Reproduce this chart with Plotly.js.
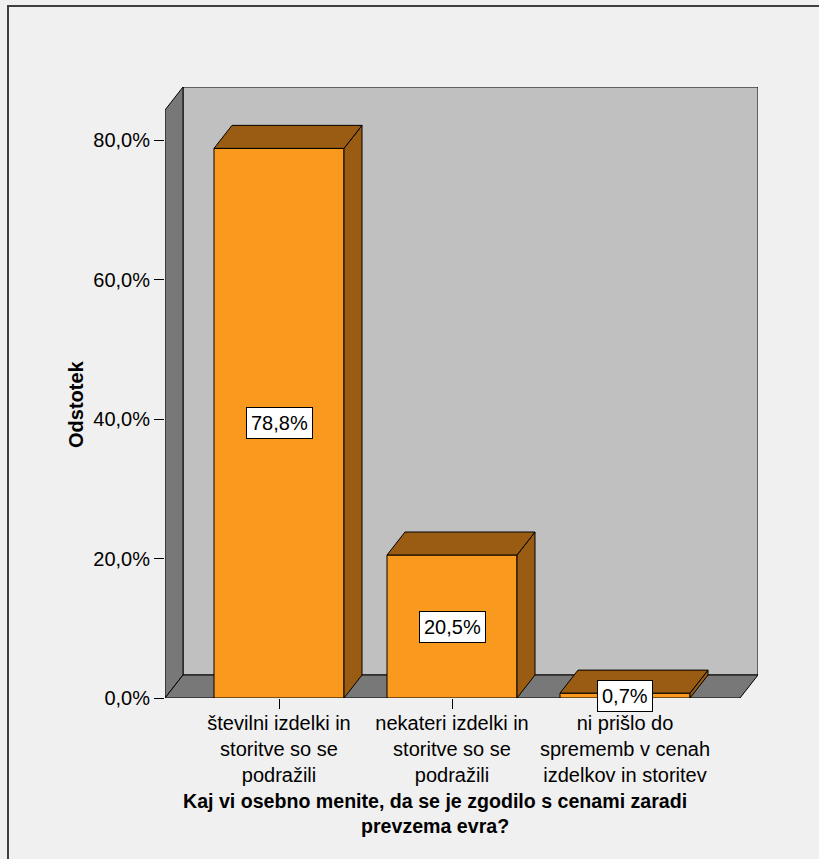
<!DOCTYPE html>
<html>
<head>
<meta charset="utf-8">
<script src="https://cdn.plot.ly/plotly-3.0.1.min.js"></script>
<style>
  html, body { margin: 0; padding: 0; background: #f0f0f0; }
  #chart { width: 819px; height: 859px; }
</style>
</head>
<body>
<div id="chart"></div>
<script>
// ---- data ----
var categories = [
  "številni izdelki in<br>storitve so se<br>podražili",
  "nekateri izdelki in<br>storitve so se<br>podražili",
  "ni prišlo do<br>sprememb v cenah<br>izdelkov in storitev"
];
var percentages = [78.8, 20.5, 0.7];
var yTickValues = [0, 20, 40, 60, 80];
var yTickLabels = ["0,0%", "20,0%", "40,0%", "60,0%", "80,0%"];
var xTitle = "Kaj vi osebno menite, da se je zgodilo s cenami zaradi<br>prevzema evra?";
var yTitle = "Odstotek";

// ---- layout geometry ----
var L = 165, R = 61, T = 87, B = 161, W = 819, H = 859;
var plotW = W - L - R, plotH = H - T - B;
var unitX = 173;          // px per category
var center0 = 279;        // px of first category
var xMin = (L - center0) / unitX;
var xMax = (W - R - center0) / unitX;
var pxPerPct = 6.975;
var yMax = plotH / pxPerPct;
var DX = 18 / unitX, DY = 23 / pxPerPct;
var barW = 130 / unitX;

var front = "#f99a1e", dark = "#995c12";
var xs = categories.map(function (_, i) { return i; });

var traces = [{
  type: "bar", x: xs, y: percentages, width: barW,
  marker: { color: front, line: { color: "#000", width: 1 } },
  hoverinfo: "skip", showlegend: false
}];

percentages.forEach(function (v, i) {
  var a = i - barW / 2, b = i + barW / 2;
  traces.push({
    type: "scatter", mode: "lines", fill: "toself", fillcolor: dark,
    x: [b, b, b + DX, b + DX, b], y: [0, v, v + DY, DY, 0],
    line: { color: "#000", width: 1 }, hoverinfo: "skip", showlegend: false
  });
  traces.push({
    type: "scatter", mode: "lines", fill: "toself", fillcolor: dark,
    x: [a, a + DX, b + DX, b, a], y: [v, v + DY, v + DY, v, v],
    line: { color: "#000", width: 1 }, hoverinfo: "skip", showlegend: false
  });
});

function px2paperX(p) { return (p - L) / plotW; }
function px2paperY(p) { return (H - B - p) / plotH; }

var shapes = [
  // back wall
  { type: "rect", xref: "x", yref: "y", layer: "below",
    x0: xMin + DX, x1: xMax, y0: DY, y1: yMax,
    fillcolor: "#c0c0c0", line: { color: "#000", width: 1 } },
  // left side wall
  { type: "path", xref: "x", yref: "y", layer: "below",
    path: "M" + xMin + ",0 L" + xMin + "," + (yMax - DY) + " L" + (xMin + DX) + "," + yMax +
          " L" + (xMin + DX) + "," + DY + " Z",
    fillcolor: "#787878", line: { color: "#000", width: 1 } },
  // floor
  { type: "path", xref: "x", yref: "y", layer: "below",
    path: "M" + xMin + ",0 L" + (xMin + DX) + "," + DY + " L" + xMax + "," + DY +
          " L" + (xMax - DX) + ",0 Z",
    fillcolor: "#787878", line: { color: "#000", width: 1 } },
  // outer frame
  { type: "path", xref: "paper", yref: "paper",
    path: "M" + px2paperX(8) + "," + px2paperY(860) + " L" + px2paperX(8) + "," + px2paperY(6) +
          " L" + px2paperX(820) + "," + px2paperY(6),
    line: { color: "#404040", width: 2 } }
];

var annotations = percentages.map(function (v, i) {
  return {
    x: i, y: v / 2, xref: "x", yref: "y", showarrow: false,
    text: v.toFixed(1).replace(".", ",") + "%",
    font: { size: 20, color: "#000" },
    bgcolor: "#fff", bordercolor: "#000", borderwidth: 1, borderpad: 4
  };
});
annotations.push({
  xref: "paper", yref: "paper", x: px2paperX(435), y: px2paperY(813),
  xanchor: "center", yanchor: "middle", showarrow: false,
  text: "<b>" + xTitle.replace("<br>", "</b><br><b>") + "</b>",
  font: { size: 19.6, color: "#000" }
});
annotations.push({
  xref: "paper", yref: "paper", x: px2paperX(76), y: px2paperY(404),
  xanchor: "center", yanchor: "middle", showarrow: false, textangle: -90,
  text: "<b>" + yTitle + "</b>", font: { size: 20, color: "#000" }
});

var layout = {
  width: W, height: H,
  margin: { l: L, r: R, t: T, b: B, pad: 0 },
  paper_bgcolor: "#f0f0f0", plot_bgcolor: "rgba(0,0,0,0)",
  font: { family: "Liberation Sans, Arial, sans-serif", size: 20, color: "#000" },
  showlegend: false,
  xaxis: {
    type: "linear", range: [xMin, xMax], tickvals: xs, ticktext: categories,
    ticks: "outside", ticklen: 10, tickwidth: 1, tickcolor: "#000",
    ticklabelstandoff: -3,
    showgrid: false, zeroline: false, showline: false, fixedrange: true,
    tickfont: { size: 20, color: "#000" }
  },
  yaxis: {
    range: [0, yMax], tickvals: yTickValues, ticktext: yTickLabels,
    ticks: "outside", ticklen: 10, tickwidth: 1, tickcolor: "#000",
    showgrid: false, zeroline: false, showline: false, fixedrange: true,
    tickfont: { size: 20, color: "#000" }
  },
  shapes: shapes,
  annotations: annotations
};

Plotly.newPlot("chart", traces, layout, { displayModeBar: false, staticPlot: true });
</script>
</body>
</html>
